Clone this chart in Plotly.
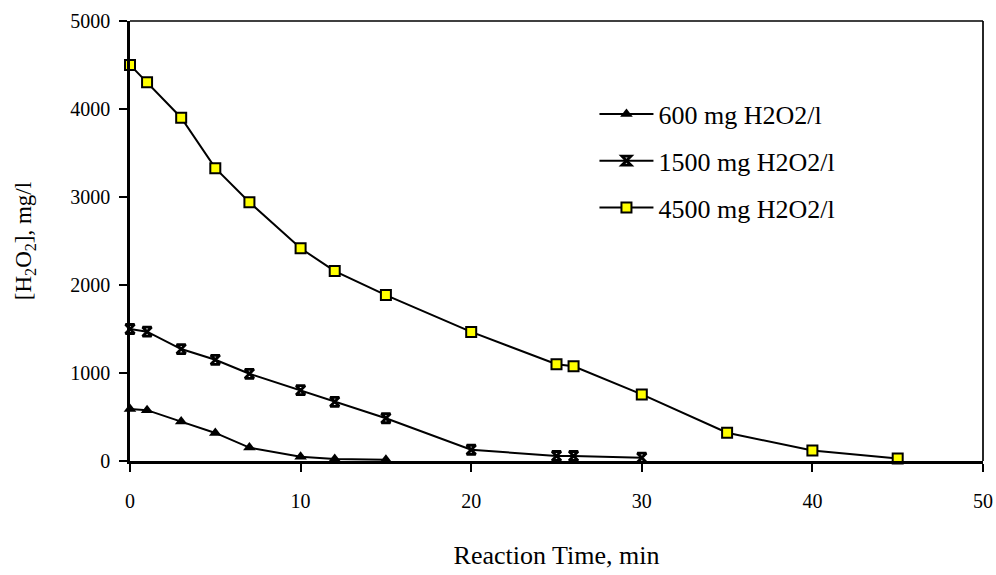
import plotly.graph_objects as go

# ---- data ----
t_600 = [0, 1, 3, 5, 7, 10, 12, 15]
c_600 = [590, 578, 448, 319, 152, 49, 23, 15]

t_1500 = [0, 1, 3, 5, 7, 10, 12, 15, 20, 25, 26, 30]
c_1500 = [1500, 1470, 1272, 1150, 991, 805, 672, 486, 128, 57, 57, 38]

t_4500 = [0, 1, 3, 5, 7, 10, 12, 15, 20, 25, 26, 30, 35, 40, 45]
c_4500 = [4501, 4303, 3901, 3328, 2941, 2417, 2158, 1885, 1467, 1099, 1076, 757, 321, 120, 28]

series_names = ["600 mg H2O2/l", "1500 mg H2O2/l", "4500 mg H2O2/l"]
x_ticks = [0, 10, 20, 30, 40, 50]
y_ticks = [0, 1000, 2000, 3000, 4000, 5000]

FONT = "Liberation Serif, Times New Roman, serif"

fig = go.Figure()
fig.add_trace(go.Scatter(
    x=t_600, y=c_600, name=series_names[0], mode="lines+markers",
    legendgroup="a", cliponaxis=False,
    line=dict(color="black", width=2),
    marker=dict(symbol="triangle-up", size=11, color="black"),
))
fig.add_trace(go.Scatter(
    x=t_1500, y=c_1500, name=series_names[1], mode="lines+markers",
    legendgroup="b", cliponaxis=False,
    line=dict(color="black", width=2),
    marker=dict(symbol="hourglass-open", size=9, color="black",
                line=dict(color="black", width=2.8)),
))
fig.add_trace(go.Scatter(
    x=t_4500, y=c_4500, name=series_names[2], mode="lines+markers",
    legendgroup="c", cliponaxis=False,
    line=dict(color="black", width=2),
    marker=dict(symbol="square", size=10, color="#ffff00",
                line=dict(color="black", width=2)),
))

fig.update_layout(
    width=996, height=575,
    margin=dict(l=130, r=13, t=21, b=114, autoexpand=False),
    paper_bgcolor="white", plot_bgcolor="white",
    font=dict(family=FONT, color="black"),
    showlegend=True,
    legend=dict(
        x=0.5445, y=0.842, xanchor="left", yanchor="top",
        font=dict(family=FONT, size=26, color="black"),
        bgcolor="rgba(0,0,0,0)", traceorder="grouped", tracegroupgap=10,
        itemwidth=54,
    ),
    xaxis=dict(
        range=[0, 50], tickvals=x_ticks, ticktext=[str(v) for v in x_ticks],
        automargin=False,
        showgrid=False, zeroline=False,
        showline=True, linecolor="black", linewidth=2.5,
        ticks="outside", ticklen=8, tickwidth=2, tickcolor="black",
        tickfont=dict(family=FONT, size=20, color="black"),
        ticklabelstandoff=12,
        title=dict(text="Reaction Time, min", standoff=36,
                   font=dict(family=FONT, size=26, color="black")),
    ),
    yaxis=dict(
        range=[0, 5000], tickvals=y_ticks, ticktext=[str(v) for v in y_ticks],
        automargin=False,
        showgrid=False, zeroline=False,
        showline=True, linecolor="black", linewidth=2.5,
        ticks="outside", ticklen=8, tickwidth=2, tickcolor="black",
        tickfont=dict(family=FONT, size=20, color="black"),
        ticklabelstandoff=5,
        title=dict(text="[H<sub>2</sub>O<sub>2</sub>], mg/l", standoff=33,
                   font=dict(family=FONT, size=23, color="black")),
    ),
    shapes=[
        dict(type="line", xref="paper", yref="paper", x0=0, x1=1, y0=1, y1=1,
             line=dict(color="black", width=1.7)),
        dict(type="line", xref="paper", yref="paper", x0=1, x1=1, y0=0, y1=1,
             line=dict(color="black", width=1.7)),
    ],
)

fig.write_html(
    "out.html",
    config={"displayModeBar": False},
    post_script="document.body.style.margin='0';document.body.style.overflow='hidden';",
)
